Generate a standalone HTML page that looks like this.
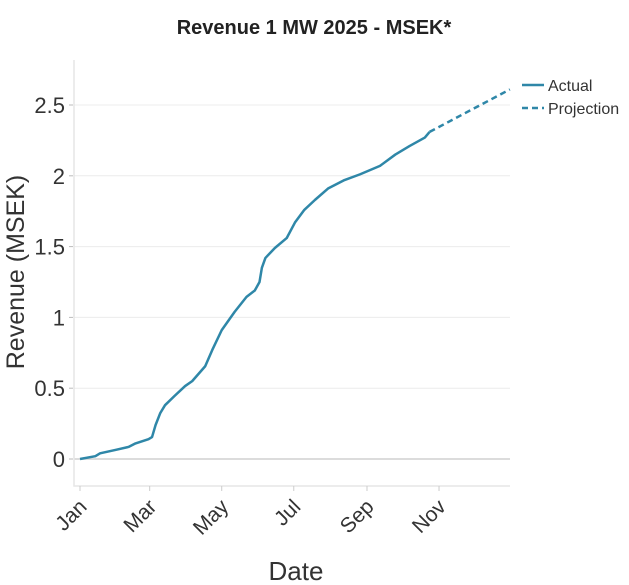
<!DOCTYPE html>
<html><head><meta charset="utf-8"><style>
body{margin:0;background:#fff;}
svg{display:block;font-family:"Liberation Sans",sans-serif;}
</style></head><body>
<svg id="chart" width="629" height="585">
<text x="314" y="34" text-anchor="middle" font-weight="bold" font-size="20" fill="#222">Revenue 1 MW 2025 - MSEK*</text>
<g id="grid"></g><g id="axes"></g><g id="series"></g>
<text transform="translate(24,272) rotate(-90)" text-anchor="middle" font-size="25" fill="#333">Revenue (MSEK)</text>
<text x="296" y="580" text-anchor="middle" font-size="26" fill="#333">Date</text>
<g>
<line x1="522" y1="85" x2="544" y2="85" stroke="#2f87a8" stroke-width="2.5"/>
<text x="548" y="91" font-size="16" fill="#333">Actual</text>
<line x1="522" y1="108" x2="544" y2="108" stroke="#2f87a8" stroke-width="2.5" stroke-dasharray="6,4"/>
<text x="548" y="114" font-size="16" fill="#333">Projection</text>
</g>
</svg>
<script>
const actualDays=[0,13,17,30,41,47,58,61,64,68,72,80,89,95,106,112,120,131,141,148,152,154,157,165,175,182,190,199,210,224,237,254,267,279,292,296];
const actualValues=[0,0.02,0.04,0.064,0.085,0.11,0.14,0.155,0.24,0.325,0.38,0.445,0.515,0.55,0.655,0.77,0.91,1.04,1.145,1.19,1.25,1.35,1.42,1.49,1.56,1.67,1.76,1.83,1.91,1.97,2.01,2.07,2.15,2.21,2.27,2.31];
const projDays=[296,364];
const projValues=[2.31,2.61];
const yTicks=[0,0.5,1,1.5,2,2.5];
const yTickLabels=["0","0.5","1","1.5","2","2.5"];
const xTickDays=[0,59,120,181,243,304];
const xTickLabels=["Jan","Mar","May","Jul","Sep","Nov"];

const X=d=>80+d*1.181, Y=v=>459-v*141.6;
const ns="http://www.w3.org/2000/svg";
function mk(p,t,a){const e=document.createElementNS(ns,t);for(const k in a)e.setAttribute(k,a[k]);p.appendChild(e);return e;}
const grid=document.getElementById('grid'),axes=document.getElementById('axes'),ser=document.getElementById('series');
yTicks.forEach((v,i)=>{
 const l=mk(grid,'line',{x1:74,x2:510,y1:Y(v),y2:Y(v),stroke:v===0?'#d0d0d0':'#ececec','stroke-width':v===0?1.5:1});
 
 
 const tk=mk(axes,'line',{x1:69,x2:73,y1:Y(v),y2:Y(v),stroke:'#bbb'});
 
 
 const t=mk(axes,'text',{x:65,y:Y(v)+8,'text-anchor':'end','font-size':22,fill:'#333'});
 t.textContent=yTickLabels[i];
 
 
});
const ax=mk(axes,'path',{d:'M74,60 V486 H510',fill:'none',stroke:'#e6e6e6','stroke-width':1.5});


xTickDays.forEach((d,i)=>{
 const x=X(d);
 const tk=mk(axes,'line',{x1:x,x2:x,y1:486,y2:491,stroke:'#ccc'});
 
 
 const t=mk(axes,'text',{x:x+8,y:508,'text-anchor':'end','font-size':21,fill:'#333',transform:`rotate(-45 ${x+8} 508)`});
 t.textContent=xTickLabels[i];
 
 
});
const a=mk(ser,'polyline',{points:actualDays.map((d,i)=>X(d)+','+Y(actualValues[i])).join(' '),fill:'none',stroke:'#2f87a8','stroke-width':2.5,'stroke-linejoin':'round'});


const p=mk(ser,'polyline',{points:projDays.map((d,i)=>X(d)+','+Y(projValues[i])).join(' '),fill:'none',stroke:'#2f87a8','stroke-width':2.5,'stroke-dasharray':'6,4'});


</script>
</body></html>
